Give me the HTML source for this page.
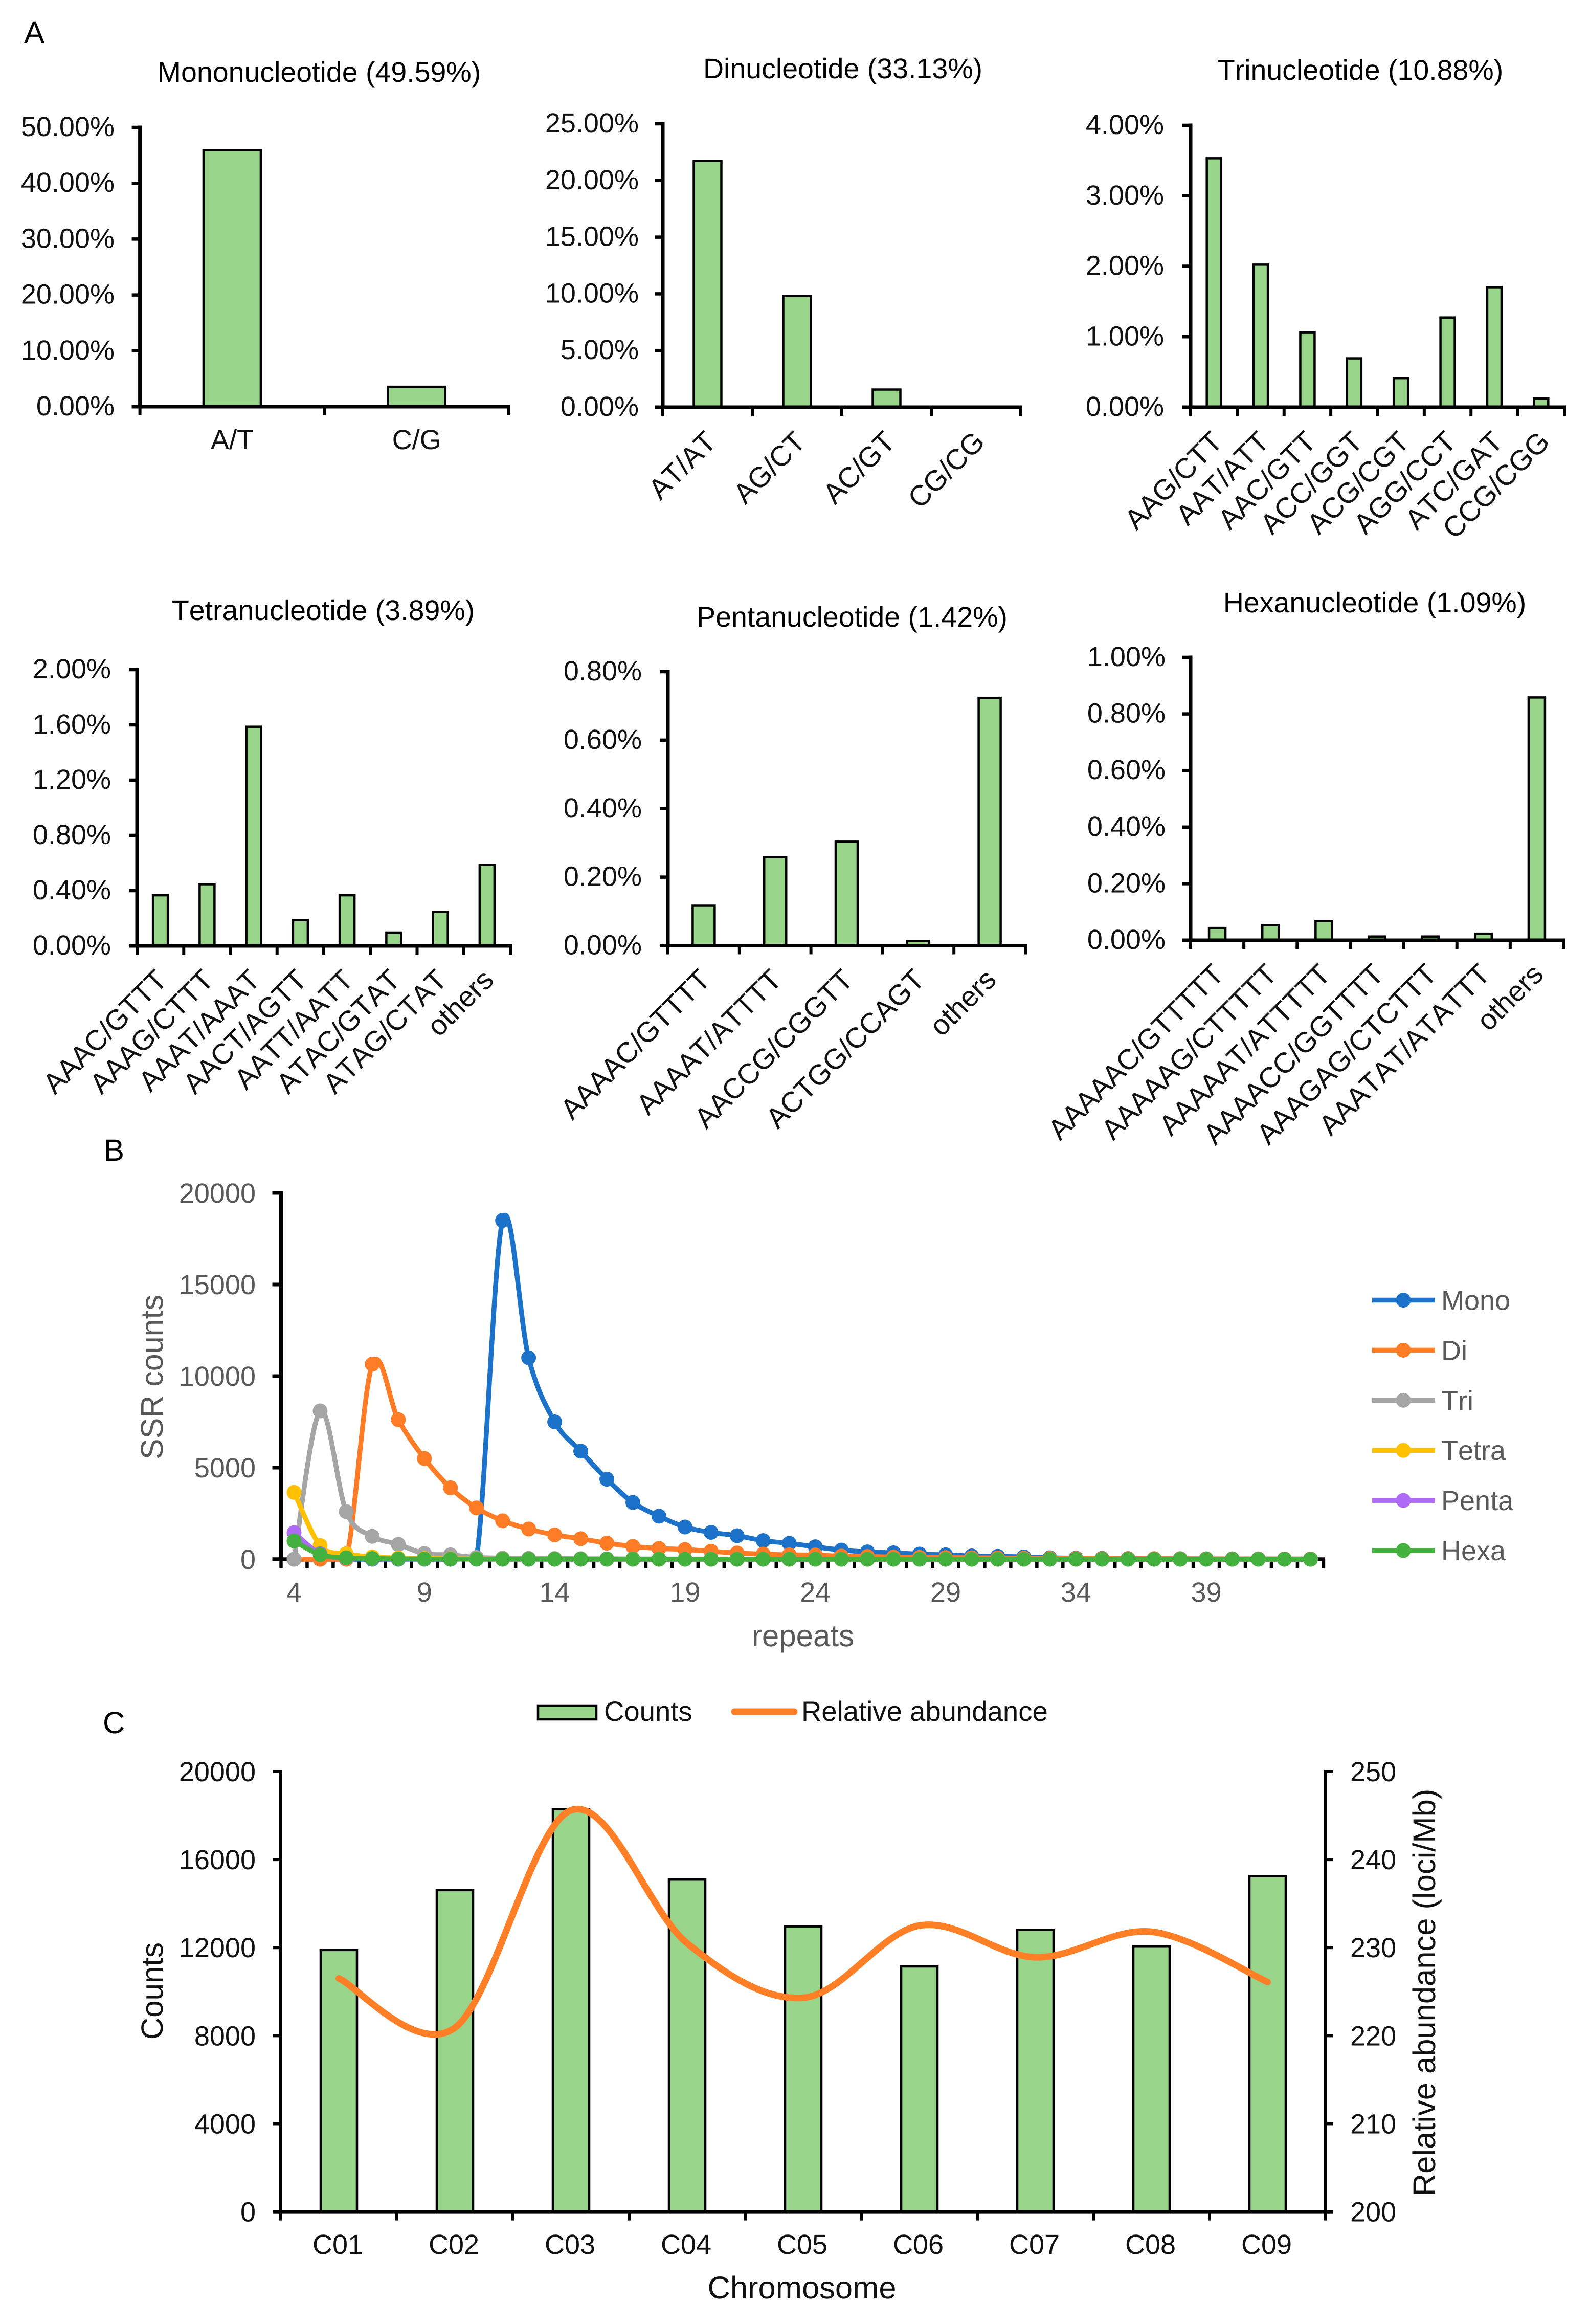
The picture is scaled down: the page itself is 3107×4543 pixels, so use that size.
<!DOCTYPE html>
<html lang="en">
<head>
<meta charset="utf-8">
<title>SSR distribution charts</title>
<style>
html,body{margin:0;padding:0;background:#fff;}
svg{display:block;font-family:"Liberation Sans",Arial,sans-serif;font-kerning:none;text-rendering:geometricPrecision;}
</style>
</head>
<body>
<svg id="figure" xmlns="http://www.w3.org/2000/svg" width="3107" height="4543" viewBox="0 0 3107 4543"></svg>
<script>
/* Panel A data */
const monoCategories = ['A/T', 'C/G'];
const monoValues = [46.0, 3.65];
const monoTicks = ['0.00%', '10.00%', '20.00%', '30.00%', '40.00%', '50.00%'];

const diCategories = ['AT/AT', 'AG/CT', 'AC/GT', 'CG/CG'];
const diValues = [21.77, 9.85, 1.6, 0.03];
const diTicks = ['0.00%', '5.00%', '10.00%', '15.00%', '20.00%', '25.00%'];

const triCategories = ['AAG/CTT', 'AAT/ATT', 'AAC/GTT', 'ACC/GGT', 'ACG/CGT', 'AGG/CCT', 'ATC/GAT', 'CCG/CGG'];
const triValues = [3.54, 2.03, 1.07, 0.70, 0.42, 1.28, 1.71, 0.13];
const triTicks = ['0.00%', '1.00%', '2.00%', '3.00%', '4.00%'];

const tetraCategories = ['AAAC/GTTT', 'AAAG/CTTT', 'AAAT/AAAT', 'AACT/AGTT', 'AATT/AATT', 'ATAC/GTAT', 'ATAG/CTAT', 'others'];
const tetraValues = [0.37, 0.45, 1.59, 0.19, 0.37, 0.10, 0.25, 0.59];
const tetraTicks = ['0.00%', '0.40%', '0.80%', '1.20%', '1.60%', '2.00%'];

const pentaCategories = ['AAAAC/GTTTT', 'AAAAT/ATTTT', 'AACCG/CGGTT', 'ACTGG/CCAGT', 'others'];
const pentaValues = [0.118, 0.26, 0.305, 0.015, 0.725];
const pentaTicks = ['0.00%', '0.20%', '0.40%', '0.60%', '0.80%'];

const hexaCategories = ['AAAAAC/GTTTTT', 'AAAAAG/CTTTTT', 'AAAAAT/ATTTTT', 'AAAACC/GGTTTT', 'AAAGAG/CTCTTT', 'AAATAT/ATATTT', 'others'];
const hexaValues = [0.045, 0.055, 0.07, 0.015, 0.015, 0.025, 0.86];
const hexaTicks = ['0.00%', '0.20%', '0.40%', '0.60%', '0.80%', '1.00%'];

/* Panel B data: repeats 4 to 43 */
const repeatCategories = [4,5,6,7,8,9,10,11,12,13,14,15,16,17,18,19,20,21,22,23,24,25,26,27,28,29,30,31,32,33,34,35,36,37,38,39,40,41,42,43];
const repeatLabels = ['4', '9', '14', '19', '24', '29', '34', '39'];
const repeatTicks = ['0', '5000', '10000', '15000', '20000'];
const repeatSeriesNames = ['Mono', 'Di', 'Tri', 'Tetra', 'Penta', 'Hexa'];
const monoCounts = [0,0,0,0,0,0,0,60,18500,11000,7500,5900,4370,3100,2350,1760,1466,1285,1017,866,680,500,400,350,280,240,180,160,130,80,60,50,40,30,30,25,20,20,15,15];
const diCounts = [0,0,0,10650,7620,5500,3900,2800,2100,1650,1330,1120,880,700,590,530,435,340,280,240,230,170,150,120,100,90,80,70,60,50,40,35,30,30,25,20,20,15,15,15];
const triCounts = [0,8100,2600,1250,810,310,240,100,60,50,40,30,25,20,15,12,10,10,8,8,6,6,5,5,4,4,3,3,3,2,2,2,2,1,1,1,1,1,1,1];
const tetraCounts = [3650,750,300,130,70,40,25,15,10,8,6,5,4,3,3,2,2,2,1,1,1,1,1,1,1,1,1,1,0,0,0,0,0,0,0,0,0,0,0,0];
const pentaCounts = [1450,300,60,20,10,5,3,2,1,1,1,0,0,0,0,0,0,0,0,0,0,0,0,0,0,0,0,0,0,0,0,0,0,0,0,0,0,0,0,0];
const hexaCounts = [1000,250,80,40,20,12,8,6,5,4,3,3,2,2,2,1,1,1,1,1,1,1,1,1,1,1,1,1,1,1,1,1,1,1,1,1,1,1,1,1];

/* Panel C data */
const chromosomes = ['C01', 'C02', 'C03', 'C04', 'C05', 'C06', 'C07', 'C08', 'C09'];
const chromosomeCounts = [11916, 14636, 18314, 15115, 12989, 11169, 12835, 12069, 15268];
const relativeAbundance = [226.5, 220.9, 245.6, 230.5, 224.3, 232.5, 228.9, 231.8, 226.1];
const countTicks = ['0', '4000', '8000', '12000', '16000', '20000'];
const abundanceTicks = ['200', '210', '220', '230', '240', '250'];

const NS = 'http://www.w3.org/2000/svg';
const root = document.getElementById('figure');
const GREEN = '#98d48a';
const GREY = '#595959';
const SERIES_COLORS = ['#1c72c9', '#ff7c26', '#a5a5a5', '#ffc000', '#ad6bf5', '#44b03e'];

function group(parent, name) {
  const el = document.createElementNS(NS, 'g');
  
  
  parent.appendChild(el);
  return el;
}
function line(parent, x1, y1, x2, y2, w, color, name) {
  const el = document.createElementNS(NS, 'line');
  el.setAttribute('x1', x1); el.setAttribute('y1', y1);
  el.setAttribute('x2', x2); el.setAttribute('y2', y2);
  el.setAttribute('stroke', color); el.setAttribute('stroke-width', w);
  
  
  parent.appendChild(el);
  return el;
}
function rect(parent, x, y, w, h, name, sw) {
  const el = document.createElementNS(NS, 'rect');
  el.setAttribute('x', x); el.setAttribute('y', y);
  el.setAttribute('width', w); el.setAttribute('height', Math.max(h, 0));
  el.setAttribute('fill', GREEN); el.setAttribute('stroke', '#000');
  el.setAttribute('stroke-width', sw);
  
  
  parent.appendChild(el);
  return el;
}
function text(parent, str, x, y, size, anchor, fill, rotate, name) {
  const el = document.createElementNS(NS, 'text');
  el.setAttribute('x', x); el.setAttribute('y', y);
  el.setAttribute('font-size', size);
  el.setAttribute('text-anchor', anchor);
  el.setAttribute('fill', fill);
  if (rotate) el.setAttribute('transform', 'rotate(' + rotate + ' ' + x + ' ' + y + ')');
  
  
  el.textContent = str;
  parent.appendChild(el);
  return el;
}
function dot(parent, x, y, r, color, name) {
  const el = document.createElementNS(NS, 'circle');
  el.setAttribute('cx', x); el.setAttribute('cy', y); el.setAttribute('r', r);
  el.setAttribute('fill', color);
  
  
  parent.appendChild(el);
  return el;
}
function smoothPath(parent, pts, w, color, name, floorY) {
  let d = 'M' + pts[0][0] + ' ' + pts[0][1];
  for (let i = 0; i < pts.length - 1; i++) {
    const p0 = pts[Math.max(i - 1, 0)], p1 = pts[i], p2 = pts[i + 1], p3 = pts[Math.min(i + 2, pts.length - 1)];
    let c1y = p1[1] + (p2[1] - p0[1]) / 6;
    let c2y = p2[1] - (p3[1] - p1[1]) / 6;
    if (floorY !== undefined) {
      c1y = Math.min(c1y, floorY);
      c2y = Math.min(c2y, floorY);
    }
    const c1x = p1[0] + (p2[0] - p0[0]) / 6;
    const c2x = p2[0] - (p3[0] - p1[0]) / 6;
    d += ' C' + c1x + ' ' + c1y + ' ' + c2x + ' ' + c2y + ' ' + p2[0] + ' ' + p2[1];
  }
  const el = document.createElementNS(NS, 'path');
  el.setAttribute('d', d);
  el.setAttribute('fill', 'none');
  el.setAttribute('stroke', color);
  el.setAttribute('stroke-width', w);
  el.setAttribute('stroke-linecap', 'round');
  el.setAttribute('stroke-linejoin', 'round');
  
  
  parent.appendChild(el);
  return el;
}

/* Panel letters */
text(root, 'A', 47, 84, 60, 'start', '#000', 0, 'panel-label-a');
text(root, 'B', 203, 2269, 60, 'start', '#000', 0, 'panel-label-b');
text(root, 'C', 201, 3388, 60, 'start', '#000', 0, 'panel-label-c');

/* Panel A bar chart */
function barPanel(o) {
  const g = group(root, o.name);
  const n = o.categories.length;
  const max = parseFloat(o.ticks[o.ticks.length - 1]);
  const step = (o.xEnd - o.x0) / n;
  const xCenter = i => o.x0 + step * (i + 0.5);
  const yScale = v => o.y0 - (v / max) * (o.y0 - o.yTop);

  text(g, o.title, o.titleX, o.titleY, 55.5, 'middle', '#000', 0, 'chart-title');

  o.values.forEach((v, i) => {
    const top = yScale(v);
    rect(g, xCenter(i) - o.barW / 2 + 2, top + 1, o.barW - 4, o.y0 - top - 1, 'bar', 4.5);
  });

  line(g, o.x0, o.yTop - 3.5, o.x0, o.y0 + 3, 7, '#000', 'y-axis');
  line(g, o.x0 - 16, o.y0, o.xEnd + 3, o.y0, 7, '#000', 'x-axis');
  o.ticks.forEach(t => {
    const y = yScale(parseFloat(t));
    line(g, o.x0 - 16, y, o.x0, y, 6.5, '#000', 'y-tick');
    text(g, t, o.labelRight, y + 17, 54, 'end', '#111', 0, 'y-tick-label');
  });
  for (let i = 0; i <= n; i++) {
    const x = o.x0 + step * i;
    line(g, x, o.y0, x, o.y0 + 17, 6, '#000', 'x-tick');
  }
  o.categories.forEach((c, i) => {
    if (o.flat) {
      text(g, c, xCenter(i), o.y0 + 83, 54, 'middle', '#111', 0, 'x-tick-label');
    } else {
      text(g, c, xCenter(i) + o.labelDx, o.y0 + o.labelDy, 56, 'end', '#111', -45, 'x-tick-label');
    }
  });
}

barPanel({name:'mononucleotide-chart', title:'Mononucleotide (49.59%)', titleX:624, titleY:160, categories:monoCategories, values:monoValues, ticks:monoTicks, x0:273.6, xEnd:995, yTop:249, y0:795, barW:116, labelRight:224, flat:true});
barPanel({name:'dinucleotide-chart', title:'Dinucleotide (33.13%)', titleX:1648, titleY:153, categories:diCategories, values:diValues, ticks:diTicks, x0:1296, xEnd:1996, yTop:242, y0:796, barW:58, labelRight:1249, labelDx:20, labelDy:71});
barPanel({name:'trinucleotide-chart', title:'Trinucleotide (10.88%)', titleX:2660, titleY:156, categories:triCategories, values:triValues, ticks:triTicks, x0:2328, xEnd:3059, yTop:245, y0:796, barW:32, labelRight:2276, labelDx:20, labelDy:71});
barPanel({name:'tetranucleotide-chart', title:'Tetranucleotide (3.89%)', titleX:632, titleY:1212, categories:tetraCategories, values:tetraValues, ticks:tetraTicks, x0:268, xEnd:998, yTop:1309, y0:1849, barW:33, labelRight:217, labelDx:16, labelDy:70});
barPanel({name:'pentanucleotide-chart', title:'Pentanucleotide (1.42%)', titleX:1666, titleY:1225, categories:pentaCategories, values:pentaValues, ticks:pentaTicks, x0:1306, xEnd:2005, yTop:1313, y0:1848.5, barW:47, labelRight:1255, labelDx:16, labelDy:70});
barPanel({name:'hexanucleotide-chart', title:'Hexanucleotide (1.09%)', titleX:2688, titleY:1197, categories:hexaCategories, values:hexaValues, ticks:hexaTicks, x0:2328, xEnd:3057, yTop:1285, y0:1838, barW:36, labelRight:2279, labelDx:16, labelDy:70});

/* Panel B line chart */
(function () {
  const g = group(root, 'ssr-repeat-line-chart');
  const x0 = 549.5, step = 50.96, y0 = 3048, yTop = 2332;
  const first = repeatCategories[0];
  const xScale = r => x0 + step * (r - first + 0.5);
  const yMax = parseFloat(repeatTicks[repeatTicks.length - 1]);
  const yScale = v => y0 - (v / yMax) * (y0 - yTop);

  line(g, x0, yTop - 3.5, x0, y0 + 3.5, 7.5, '#000', 'y-axis');
  line(g, x0 - 17, y0, xScale(repeatCategories[repeatCategories.length - 1]) + step / 2 + 3, y0, 7.5, '#000', 'x-axis');
  repeatTicks.forEach(t => {
    const y = yScale(parseFloat(t));
    line(g, x0 - 17, y, x0, y, 7, '#000', 'y-tick');
    text(g, t, 500, y + 19, 54, 'end', GREY, 0, 'y-tick-label');
  });
  repeatCategories.forEach((r, i) => {
    const x = x0 + step * i;
    line(g, x, y0, x, y0 + 17, 6.5, '#000', 'x-tick');
  });
  line(g, x0 + step * repeatCategories.length, y0, x0 + step * repeatCategories.length, y0 + 17, 6.5, '#000', 'x-tick');
  repeatLabels.forEach(l => {
    text(g, l, xScale(parseFloat(l)), 3131, 54, 'middle', GREY, 0, 'x-tick-label');
  });
  text(g, 'SSR counts', 318, 2692, 61, 'middle', GREY, -90, 'y-axis-title');
  text(g, 'repeats', 1570, 3218, 60, 'middle', GREY, 0, 'x-axis-title');

  [monoCounts, diCounts, triCounts, tetraCounts, pentaCounts, hexaCounts].forEach((series, s) => {
    const sg = group(g, 'series-' + repeatSeriesNames[s].toLowerCase());
    const pts = series.map((v, i) => [xScale(repeatCategories[i]), yScale(v)]);
    smoothPath(sg, pts, 9.5, SERIES_COLORS[s], 'series-line', y0);
    pts.forEach(p => dot(sg, p[0], p[1], 14.5, SERIES_COLORS[s], 'series-point'));
  });

  const legendTop = 2541.5, legendGap = 97.9;
  repeatSeriesNames.forEach((nm, s) => {
    const lg = group(g, 'legend-entry');
    const y = legendTop + s * legendGap;
    line(lg, 2683, y, 2806, y, 9.5, SERIES_COLORS[s], 'legend-line');
    dot(lg, 2744, y, 14.5, SERIES_COLORS[s], 'legend-marker');
    text(lg, nm, 2818, y + 19, 54, 'start', GREY, 0, 'legend-label');
  });
})();

/* Panel C combo chart */
(function () {
  const g = group(root, 'chromosome-combo-chart');
  const x0 = 549, xEnd = 2592, y0 = 4323.6, yTop = 3463;
  const step = (xEnd - x0) / chromosomes.length;
  const xCenter = i => x0 + step * (i + 0.5);
  const cMax = parseFloat(countTicks[countTicks.length - 1]);
  const aMin = parseFloat(abundanceTicks[0]);
  const aMax = parseFloat(abundanceTicks[abundanceTicks.length - 1]);
  const yCount = v => y0 - (v / cMax) * (y0 - yTop);
  const yAbund = v => y0 - ((v - aMin) / (aMax - aMin)) * (y0 - yTop);

  chromosomeCounts.forEach((v, i) => {
    const top = yCount(v);
    rect(g, xCenter(i) - 35.5, top + 1, 71, y0 - top - 1, 'bar-' + chromosomes[i].toLowerCase(), 4.5);
  });

  line(g, x0, yTop - 3, x0, y0 + 3, 6, '#000', 'left-y-axis');
  line(g, xEnd, yTop - 3, xEnd, y0 + 3, 6, '#000', 'right-y-axis');
  line(g, x0 - 15, y0, xEnd + 15, y0, 6, '#000', 'x-axis');
  countTicks.forEach(t => {
    const y = yCount(parseFloat(t));
    line(g, x0 - 15, y, x0, y, 6, '#000', 'left-y-tick');
    text(g, t, 500, y + 19, 54, 'end', '#111', 0, 'left-y-tick-label');
  });
  abundanceTicks.forEach(t => {
    const y = yAbund(parseFloat(t));
    line(g, xEnd, y, xEnd + 15, y, 6, '#000', 'right-y-tick');
    text(g, t, 2640, y + 19, 54, 'start', '#111', 0, 'right-y-tick-label');
  });
  for (let i = 0; i <= chromosomes.length; i++) {
    const x = x0 + step * i;
    line(g, x, y0, x, y0 + 17, 6, '#000', 'x-tick');
  }
  chromosomes.forEach((c, i) => {
    text(g, c, xCenter(i) - 2, 4406, 54, 'middle', '#111', 0, 'x-tick-label');
  });

  smoothPath(g, relativeAbundance.map((v, i) => [xCenter(i), yAbund(v)]), 13, '#ff7f27', 'relative-abundance-line');

  text(g, 'Counts', 318, 3892, 60, 'middle', '#111', -90, 'left-y-axis-title');
  text(g, 'Relative abundance (loci/Mb)', 2806, 3895, 61.5, 'middle', '#111', -90, 'right-y-axis-title');
  text(g, 'Chromosome', 1568, 4493, 61.5, 'middle', '#111', 0, 'x-axis-title');

  const l1 = group(g, 'legend-entry-counts');
  rect(l1, 1052, 3334, 114, 27, 'legend-swatch', 4.5);
  text(l1, 'Counts', 1181, 3364, 54.5, 'start', '#111', 0, 'legend-label');
  const l2 = group(g, 'legend-entry-relative-abundance');
  const ll = line(l2, 1436, 3346, 1553, 3346, 13, '#ff7f27', 'legend-line');
  ll.setAttribute('stroke-linecap', 'round');
  text(l2, 'Relative abundance', 1567, 3364, 54.5, 'start', '#111', 0, 'legend-label');
})();
</script>
</body>
</html>
